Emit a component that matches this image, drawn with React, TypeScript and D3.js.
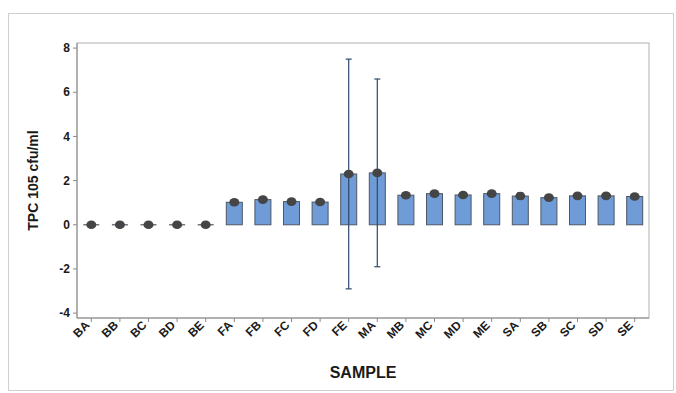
import React from 'react';
import * as d3 from 'd3';

// sample codes along the x axis
const categories = ['BA', 'BB', 'BC', 'BD', 'BE', 'FA', 'FB', 'FC', 'FD', 'FE',
  'MA', 'MB', 'MC', 'MD', 'ME', 'SA', 'SB', 'SC', 'SD', 'SE'];
// mean TPC values
const means = [0, 0, 0, 0, 0, 1.02, 1.14, 1.05, 1.03, 2.3,
  2.35, 1.34, 1.41, 1.35, 1.41, 1.3, 1.23, 1.31, 1.31, 1.28];
// error bar half-widths
const errors = [0, 0, 0, 0, 0, 0, 0, 0, 0, 5.2,
  4.25, 0, 0, 0, 0, 0.15, 0, 0, 0, 0];
const yTicks = [-4, -2, 0, 2, 4, 6, 8];

const W = 676;
const H = 393;
const left = 77;
const right = 649;
const top = 43;
const bottom = 318;
const font = 'Arial, "Liberation Sans", sans-serif';

export default function App() {
  const x = d3.scaleBand<string>()
    .domain(categories)
    .range([left, right])
    .paddingInner(0.44)
    .paddingOuter(0.22);
  const y = d3.scaleLinear().domain([-4.22, 8.23]).range([bottom, top]);
  const bw = x.bandwidth();

  return (
    <div style={{position: 'absolute', left: 0, top: 0}}>
      <svg width={W} height={H} style={{display: 'block', background: '#fff'}}>
        {/* outer frame */}
        <rect x={8.5} y={13.5} width={665} height={377} fill="#fff" stroke="#cfcfcf" />
        {/* plot frame */}
        <rect x={left} y={top} width={right - left} height={bottom - top}
              fill="#fff" stroke="#b0b0b0" />
        <line x1={left} x2={left} y1={top} y2={bottom} stroke="#8a8a8a" />
        <line x1={left} x2={right} y1={bottom} y2={bottom} stroke="#8a8a8a" />

        {/* y axis */}
        {yTicks.map(t => (
          <g key={t}>
            <line x1={left - 4} x2={left} y1={y(t)} y2={y(t)} stroke="#8a8a8a" />
            <text x={left - 7} y={y(t)} dy="0.35em" textAnchor="end"
                  fontFamily={font} fontWeight="bold" fontSize={12} fill="#1a1a1a">{t}</text>
          </g>
        ))}

        {/* x axis */}
        {categories.map(c => {
          const cx = x(c)! + bw / 2;
          return (
            <g key={c}>
              <line x1={cx} x2={cx} y1={bottom} y2={bottom + 4} stroke="#8a8a8a" />
              <g transform={`translate(${cx - 4},${bottom + 5}) rotate(-45)`}>
                <text x={0} y={0} textAnchor="end" dy="0.35em"
                      fontFamily={font} fontWeight="bold" fontSize={12} fill="#1a1a1a">{c}</text>
              </g>
            </g>
          );
        })}

        {/* bars */}
        {categories.map((c, i) => {
          const v = means[i];
          const y0 = y(0);
          const yv = y(v);
          if (v === 0) {
            return <line key={c} x1={x(c)} x2={x(c)! + bw} y1={y0} y2={y0} stroke="#4d5866" strokeWidth={1.2} />;
          }
          return (
            <rect key={c} x={x(c)} y={Math.min(y0, yv)} width={bw}
                  height={Math.abs(y0 - yv)} fill="#6f9bd6" stroke="#4d5866" strokeWidth={1} />
          );
        })}

        {/* error bars */}
        {categories.map((c, i) => {
          const e = errors[i];
          if (!e) return null;
          const cx = x(c)! + bw / 2;
          const y1 = y(means[i] + e);
          const y2 = y(means[i] - e);
          return (
            <g key={c} stroke="#2b4a6b" strokeWidth={1.2}>
              <line x1={cx} x2={cx} y1={y1} y2={y2} />
              <line x1={cx - 3} x2={cx + 3} y1={y1} y2={y1} />
              <line x1={cx - 3} x2={cx + 3} y1={y2} y2={y2} />
            </g>
          );
        })}

        {/* mean points */}
        {categories.map((c, i) => (
          <ellipse key={c} cx={x(c)! + bw / 2} cy={y(means[i])} rx={5} ry={4.3} fill="#454545" />
        ))}

        {/* axis titles */}
        <text transform={`translate(38,${(top + bottom) / 2}) rotate(-90)`} textAnchor="middle"
              fontFamily={font} fontWeight="bold" fontSize={14} fill="#1a1a1a">TPC 105 cfu/ml</text>
        <text x={(left + right) / 2} y={378} textAnchor="middle"
              fontFamily={font} fontWeight="bold" fontSize={16} fill="#1a1a1a">SAMPLE</text>
      </svg>
    </div>
  );
}
